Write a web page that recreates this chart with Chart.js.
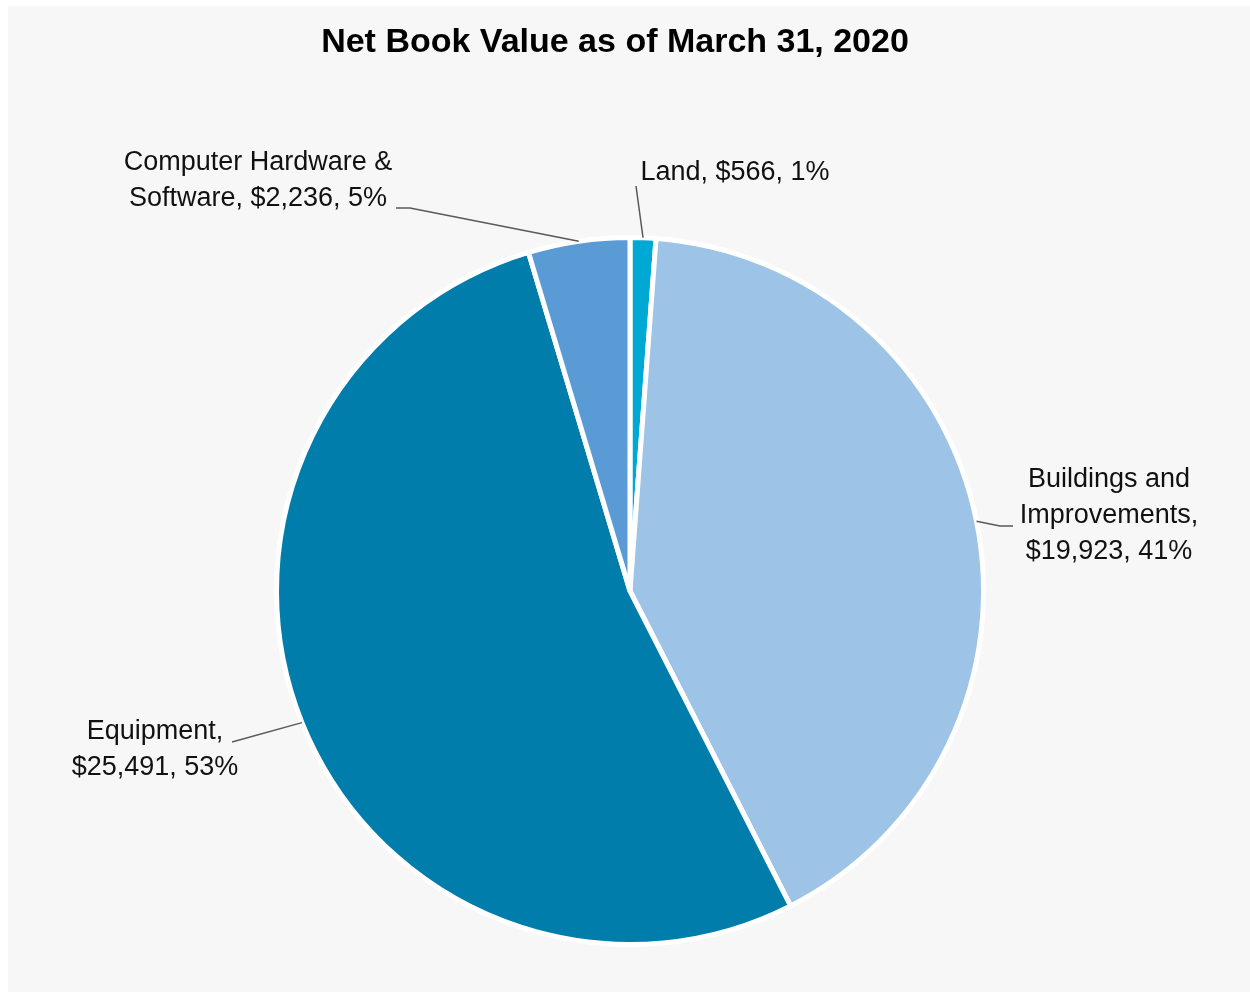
<!DOCTYPE html>
<html>
<head>
<meta charset="utf-8">
<title>Net Book Value</title>
<script src="https://cdn.jsdelivr.net/npm/chart.js@4.4.1/dist/chart.umd.min.js"></script>
<style>
  html, body { margin: 0; padding: 0; background: #ffffff; }
  #wrap { position: absolute; left: 0; top: 0; width: 1250px; height: 992px; }
</style>
</head>
<body>
<div id="wrap"><canvas id="nbvChart" width="1250" height="992"></canvas></div>
<script>
const chartTitle = "Net Book Value as of March 31, 2020";
const categories = ["Land", "Buildings and Improvements", "Equipment", "Computer Hardware & Software"];
const netBookValues = [566, 19923, 25491, 2236];
const sliceColors = ["#00A8D4", "#9DC3E6", "#007DAA", "#5B9BD5"];

const LABEL_FONT = "27px 'Liberation Sans', Arial, sans-serif";
const TITLE_FONT = "bold 34px 'Liberation Sans', Arial, sans-serif";
const LINE_HEIGHT = 36;

// where each slice's label sits: text centre, first baseline, wrap width and leader elbows
const labelLayout = [
  { cx: 735, baseline: 180, wrap: 260, elbows: [[636, 186]] },
  { cx: 1109, baseline: 487, wrap: 185, elbows: [[1000, 526], [1013, 526]] },
  { cx: 155, baseline: 739, wrap: 195, elbows: [[232, 742]] },
  { cx: 258, baseline: 170, wrap: 285, elbows: [[410, 208], [396, 208]] },
];

function formatMoney(v) {
  return "$" + v.toLocaleString("en-US");
}

function wrapText(ctx, text, maxWidth) {
  const words = text.split(" ");
  const lines = [];
  let current = "";
  words.forEach((w) => {
    const test = current ? current + " " + w : w;
    if (current && ctx.measureText(test).width > maxWidth) {
      lines.push(current);
      current = w;
    } else {
      current = test;
    }
  });
  if (current) lines.push(current);
  return lines;
}

// grey panel behind everything
const panelPlugin = {
  id: "panel",
  beforeDraw(chart) {
    const ctx = chart.ctx;
    ctx.save();
    ctx.fillStyle = "#ffffff";
    ctx.fillRect(0, 0, chart.width, chart.height);
    ctx.fillStyle = "#F7F7F7";
    ctx.fillRect(8, 6, chart.width - 8, chart.height - 6);
    ctx.restore();
  },
};

// title plus "Name, $value, pct%" labels with leader lines
const sliceLabelPlugin = {
  id: "sliceLabels",
  afterDraw(chart) {
    const ctx = chart.ctx;
    const meta = chart.getDatasetMeta(0);
    const values = chart.data.datasets[0].data;
    const total = values.reduce((a, b) => a + b, 0);

    ctx.save();
    ctx.font = TITLE_FONT;
    ctx.fillStyle = "#000000";
    ctx.textAlign = "center";
    ctx.textBaseline = "alphabetic";
    ctx.fillText(chartTitle, 615, 52);

    meta.data.forEach((arc, i) => {
      const layout = labelLayout[i];
      const mid = (arc.startAngle + arc.endAngle) / 2;
      const edgeX = arc.x + Math.cos(mid) * arc.outerRadius;
      const edgeY = arc.y + Math.sin(mid) * arc.outerRadius;

      ctx.strokeStyle = "#595959";
      ctx.lineWidth = 1.5;
      ctx.beginPath();
      ctx.moveTo(edgeX, edgeY);
      layout.elbows.forEach((p) => ctx.lineTo(p[0], p[1]));
      ctx.stroke();

      const pct = Math.round((values[i] / total) * 100);
      const text = chart.data.labels[i] + ", " + formatMoney(values[i]) + ", " + pct + "%";
      ctx.font = LABEL_FONT;
      ctx.fillStyle = "#111111";
      ctx.textAlign = "center";
      const lines = wrapText(ctx, text, layout.wrap);
      lines.forEach((line, k) => {
        ctx.fillText(line, layout.cx, layout.baseline + k * LINE_HEIGHT);
      });
    });
    ctx.restore();
  },
};

const context = document.getElementById("nbvChart").getContext("2d");
new Chart(context, {
  type: "pie",
  data: {
    labels: categories,
    datasets: [
      {
        data: netBookValues,
        backgroundColor: sliceColors,
        borderColor: "#ffffff",
        borderWidth: 5,
        borderAlign: "center",
      },
    ],
  },
  options: {
    responsive: false,
    animation: false,
    layout: {
      padding: { left: 274, right: 264, top: 235, bottom: 45 },
    },
    plugins: {
      legend: { display: false },
      title: { display: false },
      tooltip: { enabled: false },
    },
  },
  plugins: [panelPlugin, sliceLabelPlugin],
});
</script>
</body>
</html>
